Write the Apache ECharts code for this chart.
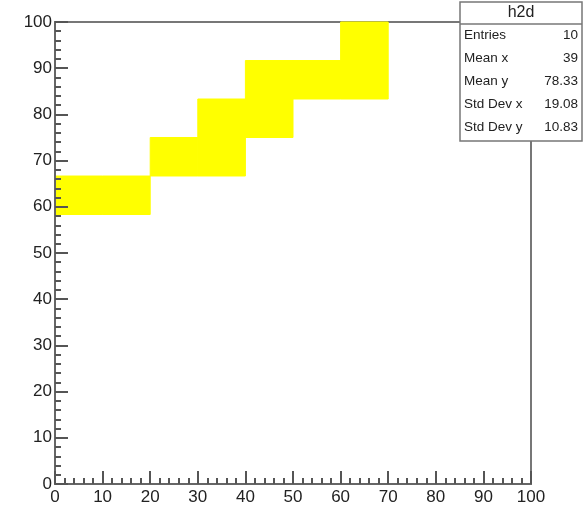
<!DOCTYPE html>
<html>
<head>
<meta charset="utf-8">
<script src="https://cdn.jsdelivr.net/npm/echarts@6/dist/echarts.min.js"></script>
<style>
  html, body { margin: 0; padding: 0; background: #fff; }
  #main { width: 587px; height: 509px; }
</style>
</head>
<body>
<div id="main"></div>
<script>
// bin lower edges (x width 10, y width 100/12)
const binX = [0, 10, 20, 30, 30, 40, 40, 50, 60, 60];
const binY = [58.33, 58.33, 66.67, 66.67, 75, 75, 83.33, 83.33, 83.33, 91.67];
const binW = 10;
const binH = 8.333;

const statNames = ['Entries', 'Mean x', 'Mean y', 'Std Dev x', 'Std Dev y'];
const statValues = ['10', '39', '78.33', '19.08', '10.83'];

var myChart = echarts.init(document.getElementById('main'));

const font = 'Liberation Sans, Arial, sans-serif';
const cells = binX.map((x, i) => [x, binY[i], x + binW, binY[i] + binH]);

const statsBox = [
  {
    type: 'rect', z: 100,
    shape: { x: 460, y: 2, width: 122, height: 139 },
    style: { fill: '#fff', stroke: '#777', lineWidth: 1.5 }
  },
  {
    type: 'line', z: 101,
    shape: { x1: 460, y1: 24, x2: 582, y2: 24 },
    style: { stroke: '#777', lineWidth: 1.5 }
  },
  {
    type: 'text', z: 101, x: 521, y: 13,
    style: { text: 'h2d', fontFamily: font, fontSize: 16, fill: '#222', align: 'center', verticalAlign: 'middle' }
  }
];
statNames.forEach((name, i) => {
  statsBox.push({
    type: 'text', z: 101, x: 464, y: 35 + i * 23,
    style: { text: name, fontFamily: font, fontSize: 13.5, fill: '#222', verticalAlign: 'middle' }
  });
  statsBox.push({
    type: 'text', z: 101, x: 578, y: 35 + i * 23,
    style: { text: statValues[i], fontFamily: font, fontSize: 13.5, fill: '#222', align: 'right', verticalAlign: 'middle' }
  });
});

const axisCommon = {
  type: 'value',
  min: 0,
  max: 100,
  interval: 10,
  z: 5,
  splitLine: { show: false },
  axisLine: { show: true, onZero: false, lineStyle: { color: '#666', width: 2 } },
  axisTick: { show: true, inside: true, length: 13, lineStyle: { color: '#555', width: 2 } },
  minorTick: { show: true, splitNumber: 5, length: 6, lineStyle: { color: '#555', width: 2 } },
  axisLabel: { fontFamily: font, fontSize: 17, color: '#222' }
};

const option = {
  backgroundColor: '#fff',
  animation: false,
  grid: {
    left: 55, right: 56, top: 22, bottom: 25,
    show: true,
    borderColor: '#777',
    borderWidth: 2,
    backgroundColor: 'transparent'
  },
  xAxis: Object.assign({}, axisCommon, {
    axisLabel: Object.assign({}, axisCommon.axisLabel, { margin: 5 })
  }),
  yAxis: Object.assign({}, axisCommon, {
    axisLabel: Object.assign({}, axisCommon.axisLabel, { margin: 3 })
  }),
  series: [{
    type: 'custom',
    data: cells,
    encode: { x: [0, 2], y: [1, 3] },
    renderItem: function (params, api) {
      const p0 = api.coord([api.value(0), api.value(3)]);
      const p1 = api.coord([api.value(2), api.value(1)]);
      return {
        type: 'rect',
        shape: { x: p0[0], y: p0[1], width: p1[0] - p0[0], height: p1[1] - p0[1] },
        style: { fill: '#ffff00', stroke: '#ffff00', lineWidth: 1 }
      };
    },
    z: 1
  }],
  graphic: statsBox
};

myChart.setOption(option);
</script>
</body>
</html>
